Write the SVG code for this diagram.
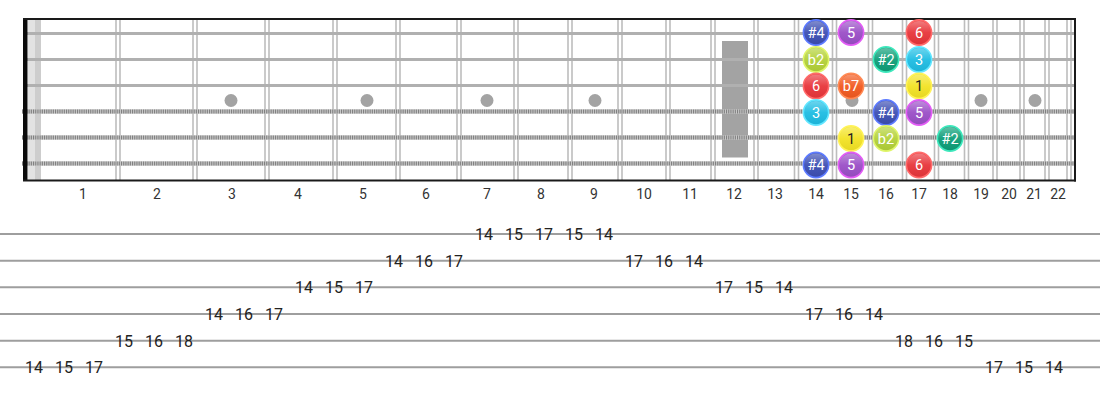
<svg xmlns="http://www.w3.org/2000/svg" width="1100" height="400" viewBox="0 0 1100 400">
<defs>
<linearGradient id="gloss" x1="0" y1="0" x2="0" y2="1">
<stop offset="0" stop-color="#fff" stop-opacity="0.35"/>
<stop offset="0.5" stop-color="#fff" stop-opacity="0.05"/>
<stop offset="1" stop-color="#000" stop-opacity="0.05"/>
</linearGradient>
</defs>
<style>
.fret{stroke:#bdbdbd;stroke-width:1.6}
.plain{stroke:#b0b0b0;stroke-width:3}
.woundBase{stroke:#c8c8c8;stroke-width:4.4}
.wound{stroke:#808080;stroke-width:4;stroke-dasharray:1.1 1.1}
.border{stroke:#1a1a1a;stroke-width:2}
.inlay{fill:#a3a3a3}
.fn{font-family:Roboto,"Liberation Sans",sans-serif;font-size:14px;fill:#333;text-anchor:middle}
.tabline{stroke:#9e9e9e;stroke-width:2}
.tab{font-family:Roboto,"Liberation Sans",sans-serif;font-size:16px;fill:#222;text-anchor:middle}
.nt{font-family:Roboto,"Liberation Sans",sans-serif;font-size:14.5px;fill:#fff;text-anchor:middle}
.dark{fill:#222}
.ring{stroke-width:1.6}
.hl{fill:url(#gloss)}
.c4{fill:#3d4fb3;stroke:#5d7bff}
.c5{fill:#9b4fc7;stroke:#e35cf5}
.c6{fill:#e8363b;stroke:#ff6a6a}
.cb2{fill:#b3d13a;stroke:#dff56a}
.cs2{fill:#0f9e78;stroke:#3fe8bd}
.c3{fill:#1fbde3;stroke:#63e6ff}
.cb7{fill:#f25a20;stroke:#ff8a55}
.c1{fill:#f3e325;stroke:#fff35a}
</style>
<rect width="1100" height="400" fill="#fff"/>
<g id="fretboard">
<rect x="28" y="19" width="13" height="161" fill="#e2e2e2"/>
<rect x="35" y="19" width="6" height="161" fill="#cdcdcd"/>
<g id="frets">
<line class="fret" x1="116" y1="19" x2="116" y2="180"/><line class="fret" x1="120" y1="19" x2="120" y2="180"/>
<line class="fret" x1="193" y1="19" x2="193" y2="180"/><line class="fret" x1="197" y1="19" x2="197" y2="180"/>
<line class="fret" x1="265" y1="19" x2="265" y2="180"/><line class="fret" x1="269" y1="19" x2="269" y2="180"/>
<line class="fret" x1="333" y1="19" x2="333" y2="180"/><line class="fret" x1="337" y1="19" x2="337" y2="180"/>
<line class="fret" x1="396" y1="19" x2="396" y2="180"/><line class="fret" x1="400" y1="19" x2="400" y2="180"/>
<line class="fret" x1="457" y1="19" x2="457" y2="180"/><line class="fret" x1="461" y1="19" x2="461" y2="180"/>
<line class="fret" x1="514" y1="19" x2="514" y2="180"/><line class="fret" x1="518" y1="19" x2="518" y2="180"/>
<line class="fret" x1="568" y1="19" x2="568" y2="180"/><line class="fret" x1="572" y1="19" x2="572" y2="180"/>
<line class="fret" x1="618" y1="19" x2="618" y2="180"/><line class="fret" x1="622" y1="19" x2="622" y2="180"/>
<line class="fret" x1="666" y1="19" x2="666" y2="180"/><line class="fret" x1="670" y1="19" x2="670" y2="180"/>
<line class="fret" x1="711" y1="19" x2="711" y2="180"/><line class="fret" x1="715" y1="19" x2="715" y2="180"/>
<line class="fret" x1="754" y1="19" x2="754" y2="180"/><line class="fret" x1="758" y1="19" x2="758" y2="180"/>
<line class="fret" x1="794.5" y1="19" x2="794.5" y2="180"/><line class="fret" x1="798.5" y1="19" x2="798.5" y2="180"/>
<line class="fret" x1="832.5" y1="19" x2="832.5" y2="180"/><line class="fret" x1="836.5" y1="19" x2="836.5" y2="180"/>
<line class="fret" x1="868.5" y1="19" x2="868.5" y2="180"/><line class="fret" x1="872.5" y1="19" x2="872.5" y2="180"/>
<line class="fret" x1="902.5" y1="19" x2="902.5" y2="180"/><line class="fret" x1="906.5" y1="19" x2="906.5" y2="180"/>
<line class="fret" x1="934.5" y1="19" x2="934.5" y2="180"/><line class="fret" x1="938.5" y1="19" x2="938.5" y2="180"/>
<line class="fret" x1="964.5" y1="19" x2="964.5" y2="180"/><line class="fret" x1="968.5" y1="19" x2="968.5" y2="180"/>
<line class="fret" x1="993" y1="19" x2="993" y2="180"/><line class="fret" x1="997" y1="19" x2="997" y2="180"/>
<line class="fret" x1="1020" y1="19" x2="1020" y2="180"/><line class="fret" x1="1024" y1="19" x2="1024" y2="180"/>
<line class="fret" x1="1045" y1="19" x2="1045" y2="180"/><line class="fret" x1="1049" y1="19" x2="1049" y2="180"/>
<line class="fret" x1="1067" y1="19" x2="1067" y2="180"/><line class="fret" x1="1071" y1="19" x2="1071" y2="180"/>
</g>
<g id="inlays">
<circle class="inlay" cx="231" cy="100.5" r="6.5"/>
<circle class="inlay" cx="367" cy="100.5" r="6.5"/>
<circle class="inlay" cx="487" cy="100.5" r="6.5"/>
<circle class="inlay" cx="595" cy="100.5" r="6.5"/>
<rect class="inlay" x="722" y="41" width="26" height="116.5"/>
<circle class="inlay" cx="852" cy="100.5" r="6.5"/>
<circle class="inlay" cx="981" cy="100.5" r="6.5"/>
<circle class="inlay" cx="1035" cy="100.5" r="6.5"/>
</g>
<g id="strings">
<line class="plain" x1="24" y1="33.5" x2="1075" y2="33.5"/>
<line class="plain" x1="24" y1="59.5" x2="1075" y2="59.5"/>
<line class="plain" x1="24" y1="85.5" x2="1075" y2="85.5"/>
<line class="woundBase" x1="22" y1="111.5" x2="1075" y2="111.5"/><line class="wound" x1="22" y1="111.5" x2="1075" y2="111.5"/>
<line class="woundBase" x1="22" y1="137.5" x2="1075" y2="137.5"/><line class="wound" x1="22" y1="137.5" x2="1075" y2="137.5"/>
<line class="woundBase" x1="22" y1="163.5" x2="1075" y2="163.5"/><line class="wound" x1="22" y1="163.5" x2="1075" y2="163.5"/>
</g>
<rect x="23" y="19" width="4.5" height="162" fill="#0a0a0a"/>
<line class="border" x1="23" y1="19" x2="1076" y2="19"/>
<line class="border" x1="23" y1="180.5" x2="1076" y2="180.5"/>
<line class="border" x1="1075" y1="18" x2="1075" y2="181.5"/>
</g>
<g id="fret-numbers">
<text class="fn" x="83" y="199">1</text>
<text class="fn" x="157" y="199">2</text>
<text class="fn" x="232" y="199">3</text>
<text class="fn" x="298" y="199">4</text>
<text class="fn" x="363" y="199">5</text>
<text class="fn" x="426" y="199">6</text>
<text class="fn" x="487" y="199">7</text>
<text class="fn" x="541" y="199">8</text>
<text class="fn" x="594" y="199">9</text>
<text class="fn" x="644" y="199">10</text>
<text class="fn" x="690" y="199">11</text>
<text class="fn" x="734" y="199">12</text>
<text class="fn" x="775" y="199">13</text>
<text class="fn" x="816" y="199">14</text>
<text class="fn" x="851" y="199">15</text>
<text class="fn" x="886" y="199">16</text>
<text class="fn" x="919" y="199">17</text>
<text class="fn" x="950" y="199">18</text>
<text class="fn" x="981" y="199">19</text>
<text class="fn" x="1009" y="199">20</text>
<text class="fn" x="1034" y="199">21</text>
<text class="fn" x="1058" y="199">22</text>
</g>
<g id="notes">
<g id="n1-14"><circle class="ring c4" cx="816" cy="32.5" r="12.6"/><circle class="hl" cx="816" cy="32.5" r="11.6"/><text class="nt" x="816" y="37.5">#4</text></g>
<g id="n1-15"><circle class="ring c5" cx="851" cy="32.5" r="12.6"/><circle class="hl" cx="851" cy="32.5" r="11.6"/><text class="nt" x="851" y="37.5">5</text></g>
<g id="n1-17"><circle class="ring c6" cx="919" cy="32.5" r="12.6"/><circle class="hl" cx="919" cy="32.5" r="11.6"/><text class="nt" x="919" y="37.5">6</text></g>
<g id="n2-14"><circle class="ring cb2" cx="816" cy="59.5" r="12.6"/><circle class="hl" cx="816" cy="59.5" r="11.6"/><text class="nt" x="816" y="64.5">b2</text></g>
<g id="n2-16"><circle class="ring cs2" cx="886" cy="59.5" r="12.6"/><circle class="hl" cx="886" cy="59.5" r="11.6"/><text class="nt" x="886" y="64.5">#2</text></g>
<g id="n2-17"><circle class="ring c3" cx="919" cy="59.5" r="12.6"/><circle class="hl" cx="919" cy="59.5" r="11.6"/><text class="nt" x="919" y="64.5">3</text></g>
<g id="n3-14"><circle class="ring c6" cx="816" cy="86" r="12.6"/><circle class="hl" cx="816" cy="86" r="11.6"/><text class="nt" x="816" y="91">6</text></g>
<g id="n3-15"><circle class="ring cb7" cx="851" cy="86" r="12.6"/><circle class="hl" cx="851" cy="86" r="11.6"/><text class="nt" x="851" y="91">b7</text></g>
<g id="n3-17"><circle class="ring c1" cx="919" cy="86" r="12.6"/><circle class="hl" cx="919" cy="86" r="11.6"/><text class="nt dark" x="919" y="91">1</text></g>
<g id="n4-14"><circle class="ring c3" cx="816" cy="112.5" r="12.6"/><circle class="hl" cx="816" cy="112.5" r="11.6"/><text class="nt" x="816" y="117.5">3</text></g>
<g id="n4-16"><circle class="ring c4" cx="886" cy="112.5" r="12.6"/><circle class="hl" cx="886" cy="112.5" r="11.6"/><text class="nt" x="886" y="117.5">#4</text></g>
<g id="n4-17"><circle class="ring c5" cx="919" cy="112.5" r="12.6"/><circle class="hl" cx="919" cy="112.5" r="11.6"/><text class="nt" x="919" y="117.5">5</text></g>
<g id="n5-15"><circle class="ring c1" cx="851" cy="138.5" r="12.6"/><circle class="hl" cx="851" cy="138.5" r="11.6"/><text class="nt dark" x="851" y="143.5">1</text></g>
<g id="n5-16"><circle class="ring cb2" cx="886" cy="138.5" r="12.6"/><circle class="hl" cx="886" cy="138.5" r="11.6"/><text class="nt" x="886" y="143.5">b2</text></g>
<g id="n5-18"><circle class="ring cs2" cx="950" cy="138.5" r="12.6"/><circle class="hl" cx="950" cy="138.5" r="11.6"/><text class="nt" x="950" y="143.5">#2</text></g>
<g id="n6-14"><circle class="ring c4" cx="816" cy="165" r="12.6"/><circle class="hl" cx="816" cy="165" r="11.6"/><text class="nt" x="816" y="170">#4</text></g>
<g id="n6-15"><circle class="ring c5" cx="851" cy="165" r="12.6"/><circle class="hl" cx="851" cy="165" r="11.6"/><text class="nt" x="851" y="170">5</text></g>
<g id="n6-17"><circle class="ring c6" cx="919" cy="165" r="12.6"/><circle class="hl" cx="919" cy="165" r="11.6"/><text class="nt" x="919" y="170">6</text></g>
</g>
<g id="tab">
<line class="tabline" x1="0" y1="234" x2="1100" y2="234"/>
<line class="tabline" x1="0" y1="260.7" x2="1100" y2="260.7"/>
<line class="tabline" x1="0" y1="287.3" x2="1100" y2="287.3"/>
<line class="tabline" x1="0" y1="314" x2="1100" y2="314"/>
<line class="tabline" x1="0" y1="340.7" x2="1100" y2="340.7"/>
<line class="tabline" x1="0" y1="367.3" x2="1100" y2="367.3"/>
<text class="tab" x="484" y="240">14</text><text class="tab" x="514" y="240">15</text><text class="tab" x="544" y="240">17</text><text class="tab" x="574" y="240">15</text><text class="tab" x="604" y="240">14</text>
<text class="tab" x="394" y="266.7">14</text><text class="tab" x="424" y="266.7">16</text><text class="tab" x="454" y="266.7">17</text>
<text class="tab" x="634" y="266.7">17</text><text class="tab" x="664" y="266.7">16</text><text class="tab" x="694" y="266.7">14</text>
<text class="tab" x="304" y="293.3">14</text><text class="tab" x="334" y="293.3">15</text><text class="tab" x="364" y="293.3">17</text>
<text class="tab" x="724" y="293.3">17</text><text class="tab" x="754" y="293.3">15</text><text class="tab" x="784" y="293.3">14</text>
<text class="tab" x="214" y="320">14</text><text class="tab" x="244" y="320">16</text><text class="tab" x="274" y="320">17</text>
<text class="tab" x="814" y="320">17</text><text class="tab" x="844" y="320">16</text><text class="tab" x="874" y="320">14</text>
<text class="tab" x="124" y="346.7">15</text><text class="tab" x="154" y="346.7">16</text><text class="tab" x="184" y="346.7">18</text>
<text class="tab" x="904" y="346.7">18</text><text class="tab" x="934" y="346.7">16</text><text class="tab" x="964" y="346.7">15</text>
<text class="tab" x="34" y="373.3">14</text><text class="tab" x="64" y="373.3">15</text><text class="tab" x="94" y="373.3">17</text>
<text class="tab" x="994" y="373.3">17</text><text class="tab" x="1024" y="373.3">15</text><text class="tab" x="1054" y="373.3">14</text>
</g>
</svg>
